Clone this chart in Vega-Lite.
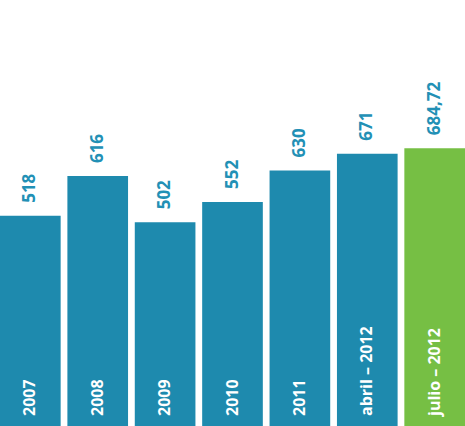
{
  "$schema": "https://vega.github.io/schema/vega-lite/v6.json",
  "width": 465,
  "height": 426,
  "autosize": {"type": "none"},
  "padding": 0,
  "background": "white",
  "config": {
    "view": {"stroke": null},
    "text": {"font": "Open Sans", "fontWeight": "bold"}
  },
  "data": {
    "values": [
      {"periodo": "2007", "valor": 518, "etiqueta": "518", "tipo": "anual"},
      {"periodo": "2008", "valor": 616, "etiqueta": "616", "tipo": "anual"},
      {"periodo": "2009", "valor": 502, "etiqueta": "502", "tipo": "anual"},
      {"periodo": "2010", "valor": 552, "etiqueta": "552", "tipo": "anual"},
      {"periodo": "2011", "valor": 630, "etiqueta": "630", "tipo": "anual"},
      {"periodo": "abril – 2012", "valor": 671, "etiqueta": "671", "tipo": "anual"},
      {"periodo": "julio – 2012", "valor": 684.72, "etiqueta": "684,72", "tipo": "actual"}
    ]
  },
  "encoding": {
    "x": {
      "field": "periodo",
      "type": "nominal",
      "sort": null,
      "axis": null,
      "scale": {"paddingInner": 0.1, "paddingOuter": 0}
    }
  },
  "layer": [
    {
      "mark": {"type": "bar"},
      "encoding": {
        "y": {"field": "valor", "type": "quantitative", "axis": null, "scale": {"domain": [0, 1050], "nice": false}},
        "color": {
          "field": "tipo",
          "type": "nominal",
          "legend": null,
          "scale": {"domain": ["anual", "actual"], "range": ["#1e8aae", "#76bf44"]}
        }
      }
    },
    {
      "mark": {"type": "text", "angle": 270, "align": "left", "baseline": "middle", "dx": 13, "fontSize": 17, "color": "#2290b5"},
      "encoding": {
        "y": {"field": "valor", "type": "quantitative"},
        "text": {"field": "etiqueta"}
      }
    },
    {
      "mark": {"type": "text", "angle": 270, "align": "left", "baseline": "middle", "dx": 10, "fontSize": 16, "color": "white"},
      "encoding": {
        "y": {"datum": 0},
        "text": {"field": "periodo"}
      }
    }
  ]
}
